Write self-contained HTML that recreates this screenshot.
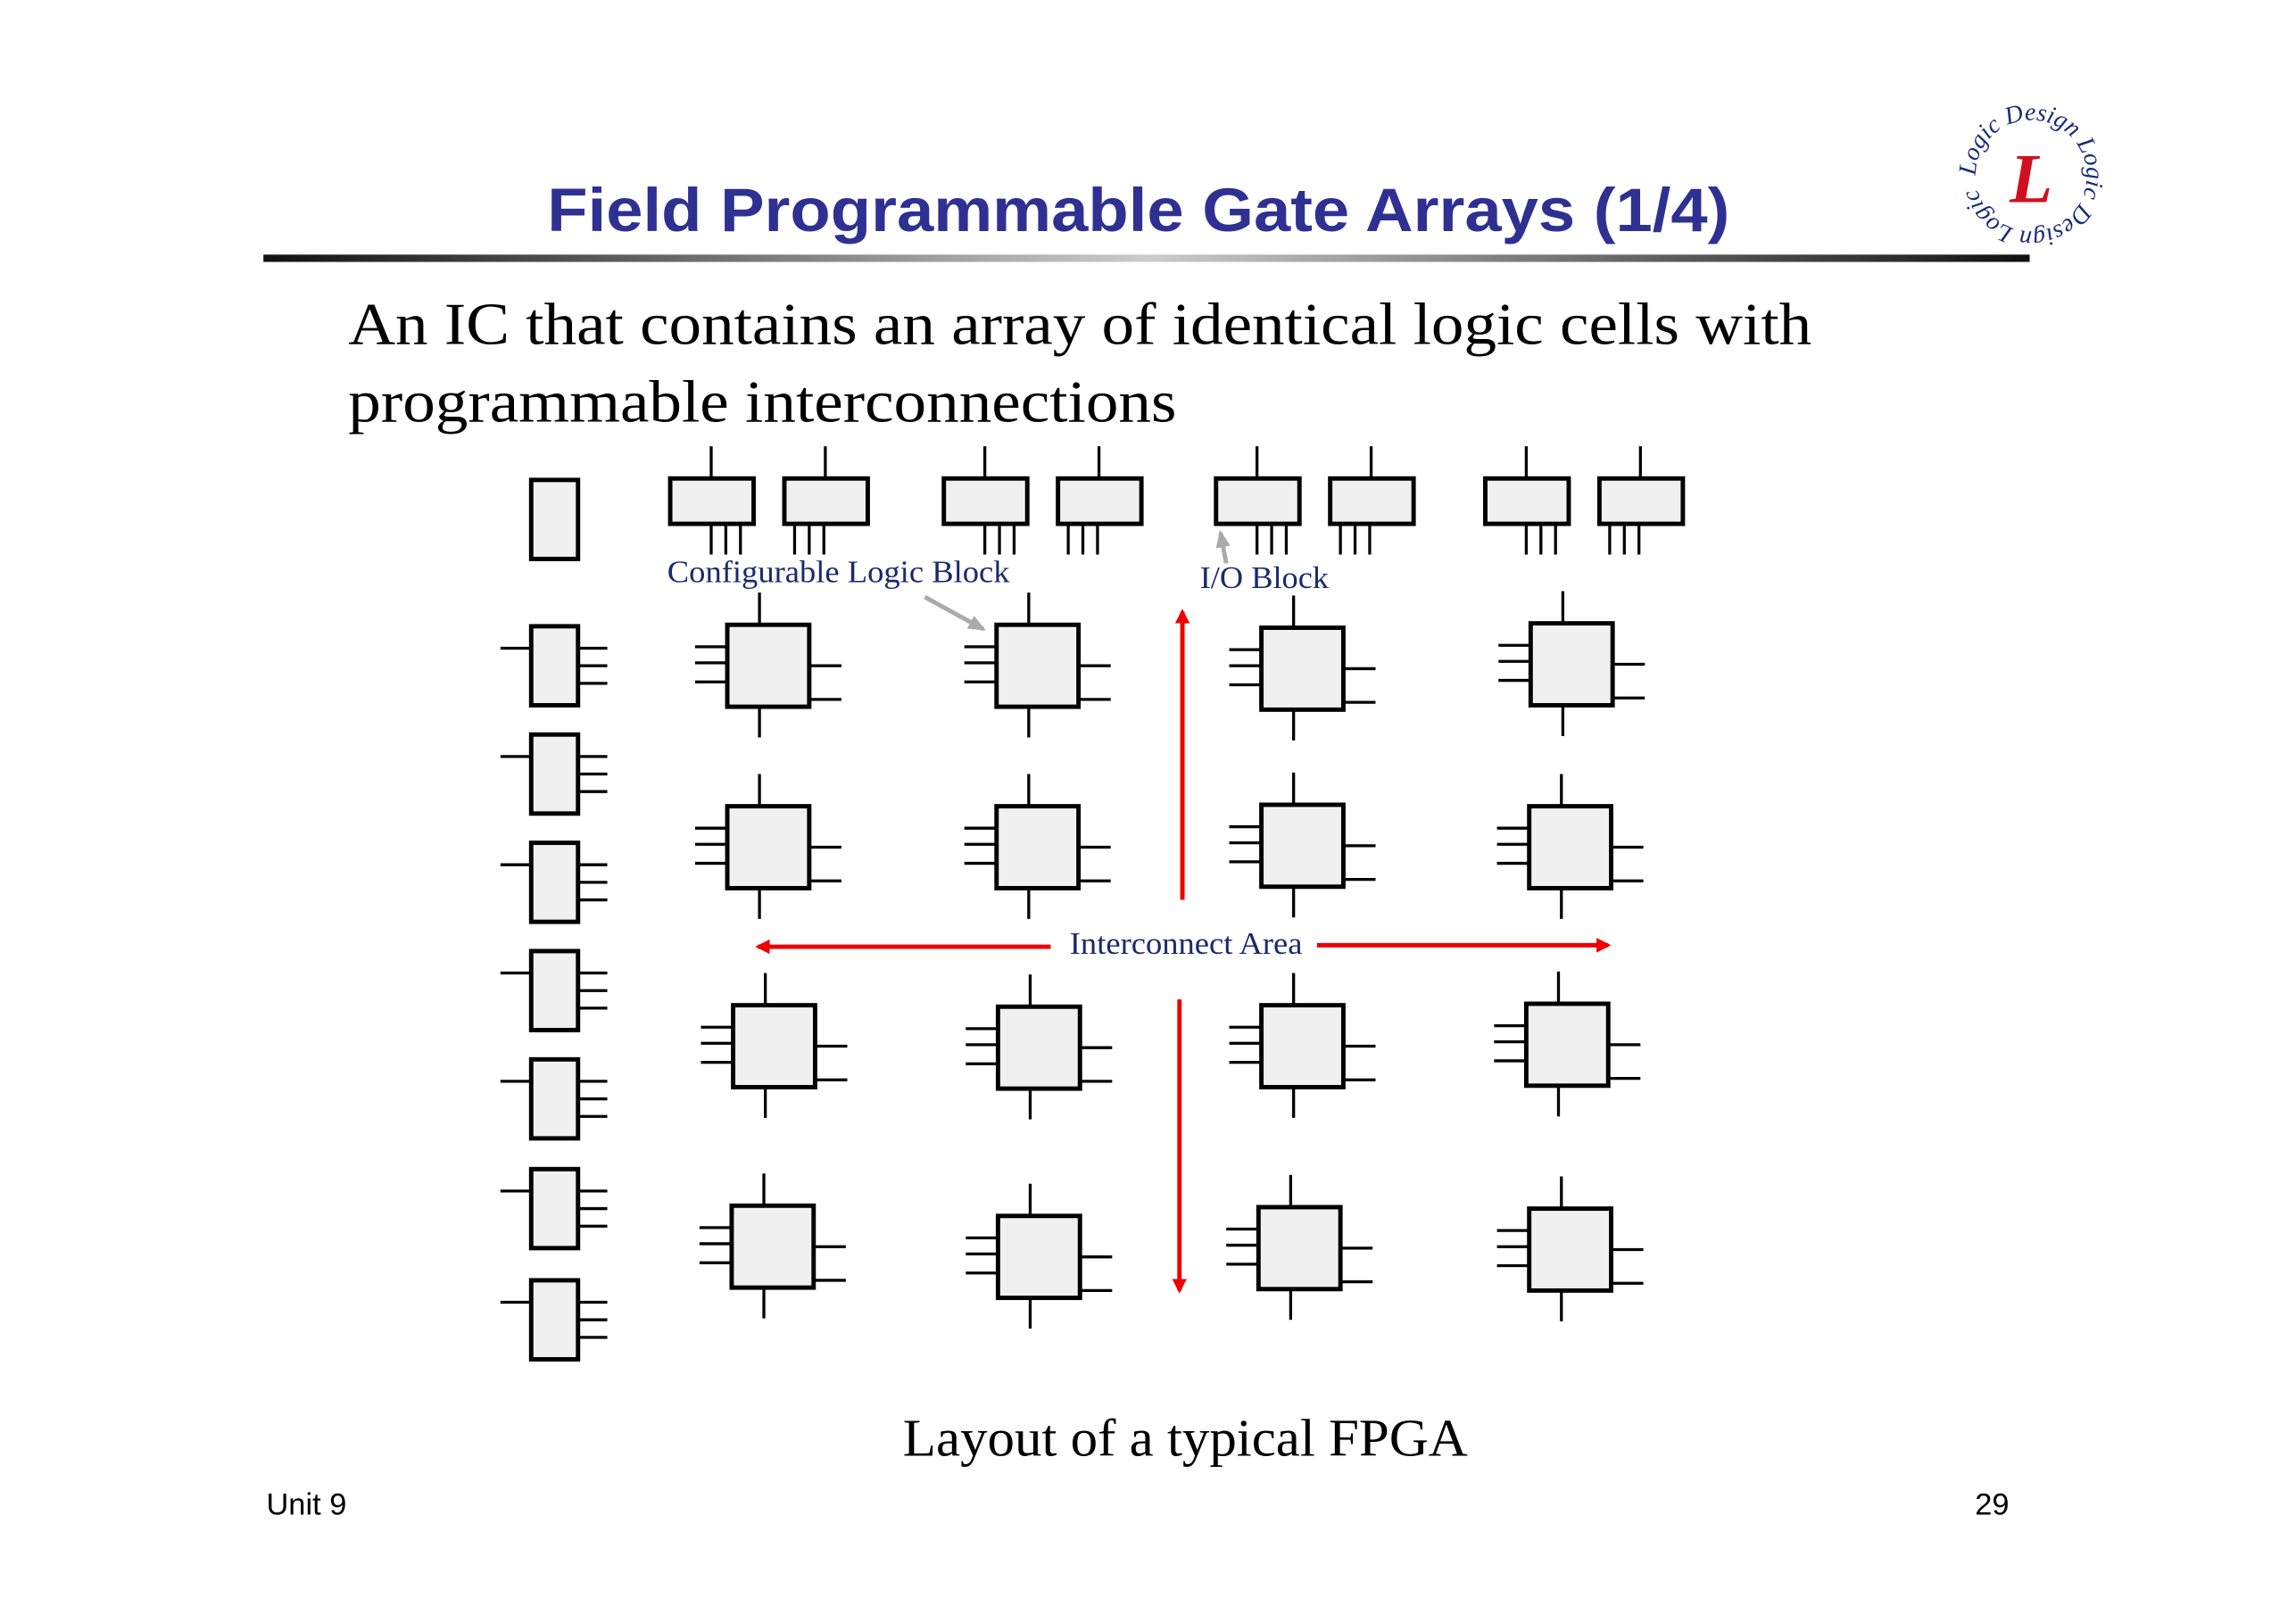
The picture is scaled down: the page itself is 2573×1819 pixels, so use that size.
<!DOCTYPE html>
<html><head><meta charset="utf-8"><style>html,body{margin:0;padding:0;background:#fff}svg{display:block}</style></head>
<body>
<svg width="2573" height="1819" viewBox="0 0 1569 1109.2" xmlns="http://www.w3.org/2000/svg">
<defs>
<linearGradient id="g" x1="0" x2="1" y1="0" y2="0">
<stop offset="0" stop-color="#111"/><stop offset="0.5" stop-color="#ccc"/><stop offset="1" stop-color="#111"/></linearGradient>
<marker id="ra" markerWidth="10" markerHeight="10" refX="8" refY="5" orient="auto" markerUnits="userSpaceOnUse"><path d="M0,0 L10,5 L0,10 z" fill="#e00"/></marker>
<marker id="ga" markerWidth="12" markerHeight="10" refX="10" refY="5" orient="auto" markerUnits="userSpaceOnUse"><path d="M0,0 L12,5 L0,10 z" fill="#aaa"/></marker>
<path id="circ" d="M1388,120 m-38,0 a38,38 0 1,1 76,0 a38,38 0 1,1 -76,0"/>
</defs>
<rect width="1569" height="1110" fill="#fff"/>
<text x="778" y="158" text-anchor="middle" font-family="Liberation Sans, sans-serif" font-weight="bold" font-size="42" fill="#2e3192" textLength="808" lengthAdjust="spacingAndGlyphs">Field Programmable Gate Arrays  (1/4)</text>
<rect x="180" y="174" width="1207" height="5" fill="url(#g)"/>
<g font-family="Liberation Sans, sans-serif">
<circle cx="1388" cy="120" r="48" fill="#fff"/>
<text font-family="Liberation Serif, serif" font-style="italic" font-size="17" fill="#1a2a7a"><textPath href="#circ">Logic Design Logic Design Logic Design</textPath></text>
<text x="1388" y="138" text-anchor="middle" font-family="Liberation Serif, serif" font-style="italic" font-weight="bold" font-size="48" fill="#d01020">L</text>
</g>
<g font-family="Liberation Serif, serif" font-size="41" fill="#000">
<text x="238" y="235" textLength="1000" lengthAdjust="spacingAndGlyphs">An IC that contains an array of identical logic cells with</text>
<text x="238" y="288" textLength="566" lengthAdjust="spacingAndGlyphs">programmable interconnections</text>
<text x="617" y="995" font-size="36" textLength="386" lengthAdjust="spacingAndGlyphs">Layout of a typical FPGA</text>
</g>
<g font-family="Liberation Sans, sans-serif" font-size="21" fill="#000">
<text x="182" y="1035">Unit 9</text>
<text x="1373" y="1035" text-anchor="end">29</text>
</g>
<g stroke="#000" fill="#f0f0f0">
<rect x="363" y="328" width="32" height="54" stroke-width="3"/>
</g>
<g stroke="#000" stroke-width="2" fill="none">
<g id="iop">
<rect x="458" y="327" width="57" height="31" fill="#f0f0f0" stroke-width="3"/>
<line x1="486" y1="305" x2="486" y2="327"/>
<line x1="486" y1="358" x2="486" y2="379"/><line x1="496" y1="358" x2="496" y2="379"/><line x1="506" y1="358" x2="506" y2="379"/>
<rect x="536" y="327" width="57" height="31" fill="#f0f0f0" stroke-width="3"/>
<line x1="564" y1="305" x2="564" y2="327"/>
<line x1="543" y1="358" x2="543" y2="379"/><line x1="553" y1="358" x2="553" y2="379"/><line x1="563" y1="358" x2="563" y2="379"/>
</g>
<use href="#iop" x="187"/><use href="#iop" x="373"/><use href="#iop" x="557"/>
<g id="lio">
<rect x="363" y="428" width="32" height="54" fill="#f0f0f0" stroke-width="3"/>
<line x1="342" y1="443" x2="363" y2="443"/>
<line x1="395" y1="443" x2="415" y2="443"/><line x1="395" y1="455" x2="415" y2="455"/><line x1="395" y1="467" x2="415" y2="467"/>
</g>
<use href="#lio" y="74"/><use href="#lio" y="148"/><use href="#lio" y="222"/><use href="#lio" y="296"/><use href="#lio" y="371"/><use href="#lio" y="447"/>
<g id="clb">
<rect x="497" y="427" width="56" height="56" fill="#f0f0f0" stroke-width="3"/>
<line x1="519" y1="405" x2="519" y2="427"/>
<line x1="519" y1="483" x2="519" y2="504"/>
<line x1="475" y1="442" x2="497" y2="442"/><line x1="475" y1="453" x2="497" y2="453"/><line x1="475" y1="466" x2="497" y2="466"/>
<line x1="553" y1="455" x2="575" y2="455"/><line x1="553" y1="478" x2="575" y2="478"/>
</g>
<use href="#clb" x="184"/><use href="#clb" x="365" y="2"/><use href="#clb" x="549" y="-1"/>
<use href="#clb" y="124"/><use href="#clb" x="184" y="124"/><use href="#clb" x="365" y="123"/><use href="#clb" x="548" y="124"/>
<use href="#clb" x="4" y="260"/><use href="#clb" x="185" y="261"/><use href="#clb" x="365" y="260"/><use href="#clb" x="546" y="259"/>
<use href="#clb" x="3" y="397"/><use href="#clb" x="185" y="404"/><use href="#clb" x="363" y="398"/><use href="#clb" x="548" y="399"/>
</g>
<g stroke="#e00" stroke-width="3">
<line x1="808" y1="615" x2="808" y2="418" marker-end="url(#ra)"/>
<line x1="806" y1="683" x2="806" y2="882" marker-end="url(#ra)"/>
<line x1="718" y1="647" x2="518" y2="647" marker-end="url(#ra)"/>
<line x1="900" y1="646" x2="1099" y2="646" marker-end="url(#ra)"/>
</g>
<g stroke="#aaa" stroke-width="3">
<line x1="632" y1="408" x2="672" y2="430" marker-end="url(#ga)"/>
<line x1="838" y1="385" x2="834" y2="364" marker-end="url(#ga)"/>
</g>
<g font-family="Liberation Serif, serif" font-size="21" fill="#1a2a6c">
<text x="456" y="398" textLength="234" lengthAdjust="spacingAndGlyphs">Configurable Logic Block</text>
<text x="820" y="402" textLength="88" lengthAdjust="spacingAndGlyphs">I/O Block</text>
<text x="731" y="652" textLength="159" lengthAdjust="spacingAndGlyphs">Interconnect Area</text>
</g>
</svg>
</body></html>
